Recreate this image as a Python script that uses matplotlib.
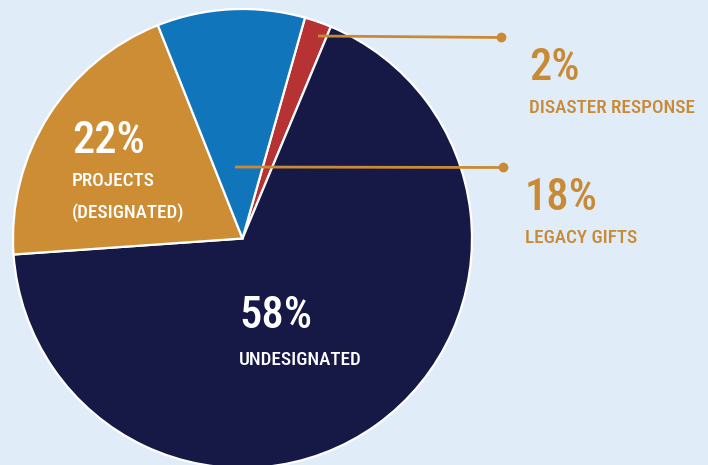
import matplotlib.pyplot as plt

# slice shares as drawn in the picture (clockwise from the red slice)
SLICE_NAMES = ["disaster response", "undesignated", "projects", "legacy gifts"]
SLICE_SHARES = [1.9, 67.6, 20.1, 10.4]
SLICE_COLORS = ["#b73233", "#161845", "#cc8d34", "#1175bc"]

# printed labels
PCT_LABELS = ["2%", "58%", "22%", "18%"]
NAME_LABELS = ["DISASTER RESPONSE", "UNDESIGNATED", "PROJECTS\n(DESIGNATED)", "LEGACY GIFTS"]

BG = "#e0edf8"
GOLD = "#c98a35"
W, H = 708, 465
FONT = ["Roboto Condensed", "Open Sans Condensed", "Liberation Sans Narrow", "Roboto"]


def main() -> None:
    fig = plt.figure(figsize=(W / 100, H / 100), dpi=100, facecolor=BG)
    ax = fig.add_axes([0, 0, 1, 1])
    ax.set_facecolor(BG)

    ax.pie(
        SLICE_SHARES,
        colors=SLICE_COLORS,
        startangle=74.2,
        counterclock=False,
        center=(242.5, H - 238.5),
        radius=229.5,
        wedgeprops=dict(edgecolor="white", linewidth=1.6),
    )
    ax.set_xlim(0, W)
    ax.set_ylim(0, H)
    ax.set_aspect("equal")
    ax.axis("off")

    # leader lines with dots
    ax.plot([318, 501], [H - 36, H - 37.5], color=GOLD, lw=2, solid_capstyle="butt")
    ax.plot([501], [H - 37.5], "o", color=GOLD, ms=6)
    ax.plot([235, 503], [H - 167, H - 167.5], color=GOLD, lw=2, solid_capstyle="butt")
    ax.plot([503], [H - 167.5], "o", color=GOLD, ms=6)

    big = dict(family=FONT, fontsize=32, fontweight="medium", va="baseline", ha="left")
    small = dict(family=FONT, fontsize=13.8, fontweight="medium", va="baseline", ha="left")

    # 2% disaster response
    ax.text(529, H - 80, PCT_LABELS[0], color=GOLD, **big)
    ax.text(529, H - 113, NAME_LABELS[0], color=GOLD, **small)
    # 18% legacy gifts
    ax.text(525, H - 210, PCT_LABELS[3], color=GOLD, **big)
    ax.text(525, H - 243, NAME_LABELS[3], color=GOLD, **small)
    # 22% projects (two lines)
    ax.text(72, H - 153, PCT_LABELS[2], color="white", **big)
    line1, line2 = NAME_LABELS[2].split("\n")
    ax.text(72, H - 186, line1, color="white", **small)
    ax.text(72, H - 218, line2, color="white", **small)
    # 58% undesignated
    ax.text(239, H - 328, PCT_LABELS[1], color="white", **big)
    ax.text(239, H - 365, NAME_LABELS[1], color="white", **small)

    fig.savefig("out.png", dpi=100, facecolor=BG)
    plt.close(fig)


if __name__ == "__main__":
    main()
